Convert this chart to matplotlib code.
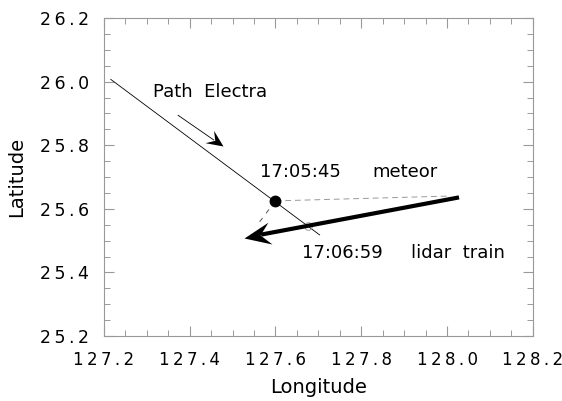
import numpy as np
import matplotlib.pyplot as plt
from matplotlib.ticker import MultipleLocator, FuncFormatter
from matplotlib.markers import MarkerStyle
from matplotlib.path import Path
from matplotlib.transforms import Affine2D

plt.rcParams['font.family'] = ['DejaVu Sans']

# Electra flight path and the observed meteor / lidar train
path_lon = [127.216, 127.703]
path_lat = [26.007, 25.518]
heading_lon = [127.372, 127.477]
heading_lat = [25.895, 25.797]
meteor_lon, meteor_lat = 127.600, 25.625
cross_lon, cross_lat = 127.675, 25.547
train_lon = [128.028, 127.527]
train_lat = [25.636, 25.509]
guide_lon = [127.600, 128.000]
guide_lat = [25.625, 25.640]
drop_lon = [127.600, 127.555]
drop_lat = [25.625, 25.545]

xticks = [127.2, 127.4, 127.6, 127.8, 128.0, 128.2]
yticks = [25.2, 25.4, 25.6, 25.8, 26.0, 26.2]


def spaced(s):
    return '\u2009'.join(s)


def barbed_arrow(ax, lon, lat, lw, size, half_width, notch):
    # shaft from the first point, ending inside a barbed head at the second
    p0 = ax.transData.transform((lon[0], lat[0]))
    p1 = ax.transData.transform((lon[1], lat[1]))
    d = p1 - p0
    ang = np.degrees(np.arctan2(d[1], d[0]))
    head_px = 0.5 * size * fig.dpi / 72
    back = p1 - d / np.hypot(*d) * head_px * notch * 1.05
    end = ax.transData.inverted().transform(back)
    ax.plot([lon[0], end[0]], [lat[0], end[1]], color='black', lw=lw,
            solid_capstyle='butt')
    verts = [(0, 0), (-1, half_width), (-notch, 0), (-1, -half_width), (0, 0)]
    codes = [Path.MOVETO, Path.LINETO, Path.LINETO, Path.LINETO, Path.CLOSEPOLY]
    m = MarkerStyle(Path(verts, codes), transform=Affine2D().rotate_deg(ang))
    ax.plot(lon[1], lat[1], marker=m, ms=size, color='black', mew=0, ls='none')


fig = plt.figure(figsize=(5.62, 4.01), dpi=100)
ax = fig.add_axes([0.185, 0.162, 0.763, 0.793])
ax.set_xlim(127.2, 128.2)
ax.set_ylim(25.2, 26.2)

ax.plot(path_lon, path_lat, color='black', lw=0.6)
ax.plot(guide_lon, guide_lat, color='#999999', lw=0.7, ls=(0, (6, 4)))
ax.plot(drop_lon, drop_lat, color='#555555', lw=0.7, ls=(0, (5, 6)))
ax.plot(meteor_lon, meteor_lat, 'o', color='black', ms=7.5)
ax.plot(cross_lon, cross_lat, 'o', mfc='none', mec='#999999', ms=5.5, mew=0.7)

barbed_arrow(ax, heading_lon, heading_lat, 0.6, 24, 0.45, 0.6)
barbed_arrow(ax, train_lon, train_lat, 3, 38, 0.42, 0.62)

tk = dict(fontsize=13, va='center', ha='left')
ax.text(127.314, 25.967, 'Path  Electra', **tk)
ax.text(127.564, 25.717, '17:05:45', **tk)
ax.text(127.827, 25.717, 'meteor', **tk)
ax.text(127.661, 25.461, '17:06:59', **tk)
ax.text(127.917, 25.461, 'lidar  train', **tk)

ax.set_xticks(xticks)
ax.set_yticks(yticks)
ax.xaxis.set_minor_locator(MultipleLocator(0.05))
ax.yaxis.set_minor_locator(MultipleLocator(0.05))
fmt = FuncFormatter(lambda v, p: spaced(f'{v:.1f}'))
ax.xaxis.set_major_formatter(fmt)
ax.yaxis.set_major_formatter(fmt)
ax.tick_params(which='both', direction='in', top=True, right=True,
               color='#999999', labelsize=12.5)
ax.tick_params(axis='x', labelsize=12)
ax.tick_params(which='major', length=7, width=0.8)
ax.tick_params(which='minor', length=4, width=0.7)
ax.tick_params(axis='x', which='major', pad=11)
ax.tick_params(axis='y', which='major', pad=11)
for sp in ax.spines.values():
    sp.set_color('#999999')
    sp.set_linewidth(0.8)

ax.set_xlabel('Longitude', fontsize=14, labelpad=6)
ax.set_ylabel('Latitude', fontsize=14, labelpad=10)

fig.savefig('out.png', dpi=100)
